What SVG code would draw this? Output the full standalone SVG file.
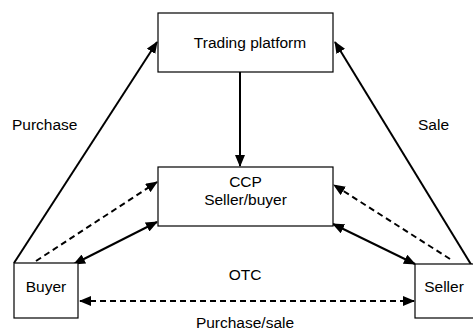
<svg xmlns="http://www.w3.org/2000/svg" width="473" height="334" viewBox="0 0 473 334">
<style>
.box{fill:#fff;stroke:#000;stroke-width:1.2}
.t{font-family:"Liberation Sans",Arial,sans-serif;font-size:15.5px;fill:#000;text-anchor:middle}
.l{font-family:"Liberation Sans",Arial,sans-serif;font-size:15.5px;fill:#000}
.c{stroke:#000;stroke-width:2;fill:none}
.d{stroke-dasharray:6,4}
</style>
<defs>
<marker id="ah" markerUnits="userSpaceOnUse" markerWidth="12" markerHeight="10" refX="11" refY="5" orient="auto-start-reverse" viewBox="0 0 12 10">
<path d="M0,0 L12,5 L0,10 Z" fill="#000"/>
</marker>
</defs>
<rect width="473" height="334" fill="#fff"/>
<g id="connectors">
<line class="c" x1="14" y1="263" x2="157" y2="42" marker-end="url(#ah)"/>
<line class="c" x1="472" y1="266" x2="335" y2="42" marker-end="url(#ah)"/>
<line class="c" x1="240" y1="72" x2="240" y2="166" marker-end="url(#ah)"/>
<line class="c d" x1="36" y1="261" x2="157" y2="182" marker-end="url(#ah)"/>
<line class="c" x1="74" y1="264" x2="157" y2="222" marker-start="url(#ah)" marker-end="url(#ah)"/>
<line class="c d" x1="450" y1="259" x2="334" y2="185" marker-end="url(#ah)"/>
<line class="c" x1="333" y1="224" x2="415" y2="264" marker-start="url(#ah)" marker-end="url(#ah)"/>
<line class="c d" x1="80" y1="301" x2="414" y2="301" marker-start="url(#ah)" marker-end="url(#ah)"/>
</g>
<g id="trading"><rect class="box" x="158" y="13" width="175" height="59"/><text class="t" x="250" y="48">Trading platform</text></g>
<g id="ccp"><rect class="box" x="158" y="167" width="175" height="59"/><text class="t" x="245.5" y="187">CCP</text><text class="t" x="245.5" y="205">Seller/buyer</text></g>
<g id="buyer"><rect class="box" x="14" y="263" width="64" height="55"/><text class="t" x="46" y="292">Buyer</text></g>
<g id="seller"><rect class="box" x="415" y="264" width="60" height="54"/><text class="t" x="444" y="292">Seller</text></g>
<g id="labels">
<text class="l" x="12" y="130">Purchase</text>
<text class="l" x="418" y="130">Sale</text>
<text class="t" x="245" y="280">OTC</text>
<text class="t" x="245" y="328">Purchase/sale</text>
</g>
</svg>
